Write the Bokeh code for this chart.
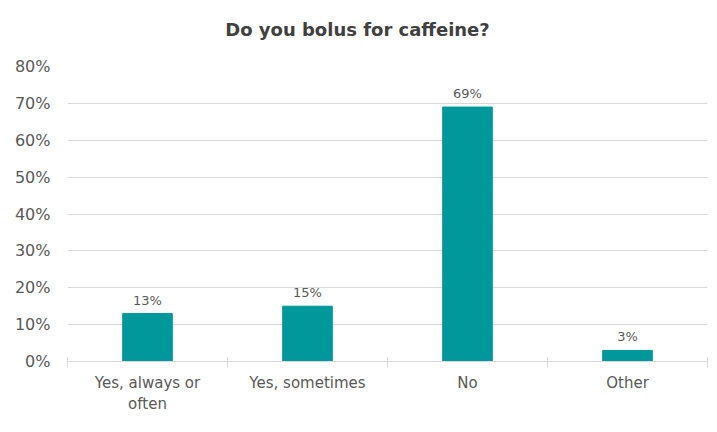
from bokeh.plotting import figure
from bokeh.models import Range1d, FixedTicker, NumeralTickFormatter, ColumnDataSource, Div
from bokeh.layouts import column
from bokeh.core.properties import value
from bokeh.embed import file_html
from bokeh.resources import INLINE

title_text = "Do you bolus for caffeine?"
categories = ["Yes, always or\noften", "Yes, sometimes", "No", "Other"]
values = [0.13, 0.15, 0.69, 0.03]
labels = ["13%", "15%", "69%", "3%"]
y_ticks = [0, 0.1, 0.2, 0.3, 0.4, 0.5, 0.6, 0.7, 0.8]

FONT = "DejaVu Sans"
TXT = "#595959"
GRID = "#d9d9d9"
BAR = "#00989b"

xs = [i + 0.5 for i in range(len(categories))]
src = ColumnDataSource(dict(x=xs, top=values, lab=labels))

title_div = Div(
    text=('<div style="width:715px;text-align:center;font-family:\'DejaVu Sans\';font-size:18px;'
          'font-weight:bold;color:#404040;line-height:36px;margin:0;padding:12px 0 0 0;">'
          + title_text + '</div>'),
    width=715, height=48, margin=0,
    styles={"text-align": "center", "width": "715px"})

p = figure(width=715, height=382, output_backend="svg", toolbar_location=None,
           x_range=Range1d(0, len(categories)), y_range=Range1d(0, 0.8),
           min_border_left=67, min_border_right=8, min_border_bottom=69, min_border_top=18,
           margin=0)
p.outline_line_color = None
p.background_fill_color = "white"
p.border_fill_color = "white"

p.vbar(x="x", top="top", width=0.31, source=src, color=BAR)
p.text(x="x", y="top", text="lab", source=src, text_align="center", text_baseline="bottom",
       y_offset=-6, text_font=value(FONT), text_font_size="13px", text_color=TXT)

# y axis
p.yaxis.ticker = FixedTicker(ticks=y_ticks)
p.yaxis.formatter = NumeralTickFormatter(format="0%")
p.yaxis.axis_line_color = None
p.yaxis.major_tick_line_color = None
p.yaxis.minor_tick_line_color = None
p.yaxis.major_tick_out = 0
p.yaxis.major_tick_in = 0
p.yaxis.major_label_standoff = 17
p.yaxis.major_label_text_font = FONT
p.yaxis.major_label_text_font_size = "16px"
p.yaxis.major_label_text_color = TXT

p.ygrid.grid_line_color = GRID
p.xgrid.grid_line_color = None

# x axis
p.xaxis.ticker = FixedTicker(ticks=xs, minor_ticks=list(range(len(categories) + 1)))
p.xaxis.major_label_overrides = {x: c for x, c in zip(xs, categories)}
p.xaxis.axis_line_color = GRID
p.xaxis.major_tick_line_color = None
p.xaxis.major_tick_out = 0
p.xaxis.major_tick_in = 0
p.xaxis.minor_tick_line_color = GRID
p.xaxis.minor_tick_in = 4
p.xaxis.minor_tick_out = 6
p.xaxis.major_label_standoff = 6
p.xaxis.major_label_text_font = FONT
p.xaxis.major_label_text_font_size = "15px"
p.xaxis.major_label_text_color = TXT

layout = column(title_div, p, spacing=0, margin=0)
open("out.html", "w").write(file_html(layout, INLINE))
